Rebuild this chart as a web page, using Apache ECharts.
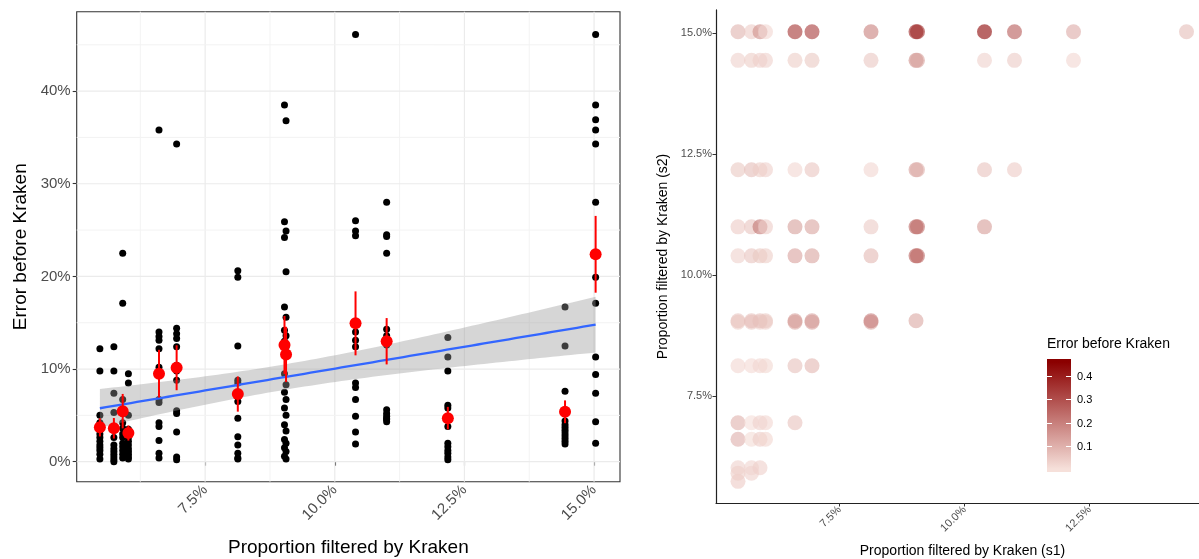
<!DOCTYPE html>
<html><head><meta charset="utf-8">
<script src="https://cdn.jsdelivr.net/npm/echarts@6/dist/echarts.min.js"></script>
<style>html,body{margin:0;padding:0;background:#fff}#c{width:1199px;height:559px}</style>
</head><body><div id="c"></div>
<script>
// Proportion filtered by Kraken for each sample (%)
const samples = [5.47, 5.74, 5.91, 6.02, 6.61, 6.95, 8.13, 9.03, 9.06, 10.40, 11.00, 12.18, 14.44, 15.03];
// Error before Kraken (%) of every pair that contains the sample
const err_547 = [12.2, 9.8, 5.0, 4.2, 3.6, 3.0, 2.6, 2.2, 1.8, 1.5, 1.2, 0.8, 0.3];
const err_574 = [12.4, 9.8, 7.4, 5.3, 3.6, 2.6, 1.8, 1.4, 1.1, 0.8, 0.5, 0.2, 0.0];
const err_591 = [22.5, 17.1, 6.7, 5.2, 4.2, 3.6, 3.0, 2.6, 2.0, 1.6, 1.2, 0.8, 0.4];
const err_602 = [9.5, 8.5, 5.0, 3.5, 3.0, 2.6, 2.2, 1.8, 1.4, 1.1, 0.8, 0.5, 0.3];
const err_661 = [35.8, 14.0, 13.5, 13.1, 12.2, 10.2, 6.7, 6.4, 4.2, 3.8, 2.3, 0.9, 0.4];
const err_695 = [34.3, 14.4, 13.8, 13.3, 12.4, 10.4, 9.8, 8.8, 5.5, 5.2, 3.2, 0.5, 0.2];
const err_813 = [20.6, 19.9, 12.5, 8.8, 8.5, 7.3, 6.5, 4.7, 2.7, 1.8, 0.9, 0.4, 0.3];
const err_903 = [38.5, 25.9, 24.2, 16.7, 14.2, 13.0, 9.5, 7.5, 5.8, 4.0, 2.4, 1.5, 0.6];
const err_906 = [36.8, 24.9, 20.5, 15.6, 13.6, 12.4, 8.3, 6.7, 5.0, 3.3, 2.0, 1.1, 0.3];
const err_1040 = [46.1, 26.0, 24.9, 24.4, 14.0, 13.1, 12.4, 8.5, 8.0, 6.7, 4.9, 3.2, 1.9];
const err_1100 = [28.0, 24.5, 24.3, 22.5, 14.3, 13.6, 12.6, 5.6, 5.2, 4.9, 4.6, 4.6, 4.3];
const err_1218 = [13.4, 11.3, 9.8, 6.1, 5.8, 4.5, 3.8, 2.0, 1.6, 1.2, 0.9, 0.5, 0.2];
const err_1444 = [16.7, 12.5, 7.6, 5.2, 4.4, 4.0, 3.7, 3.4, 3.1, 2.8, 2.5, 2.2, 1.9];
const err_1503 = [46.1, 38.5, 36.9, 35.8, 34.3, 28.0, 19.9, 17.1, 11.3, 9.4, 7.4, 4.3, 2.0];
const leftColumns = [err_547, err_574, err_591, err_602, err_661, err_695, err_813,
  err_903, err_906, err_1040, err_1100, err_1218, err_1444, err_1503];

// Right panel: error (fraction) of pair (s1 = samples[i], s2 = samples[j]), i < j, one array per s2
const pairErr_574 = [0.045];
const pairErr_591 = [0.040, 0.030];
const pairErr_602 = [0.030, 0.025, 0.036];
const pairErr_661 = [0.102, 0.009, 0.042, 0.023];
const pairErr_695 = [0.098, 0.005, 0.032, 0.020, 0.064];
const pairErr_813 = [0.020, 0.015, 0.020, 0.018, 0.067, 0.088];
const pairErr_903 = [0.040, 0.053, 0.030, 0.035, 0.122, 0.133, 0.125];
const pairErr_906 = [0.060, 0.070, 0.067, 0.050, 0.140, 0.138, 0.206, 0.120];
const pairErr_1040 = [0.030, 0.060, 0.050, 0.040, 0.131, 0.124, 0.085, 0.260, 0.250];
const pairErr_1100 = [0.045, 0.060, 0.225, 0.043, 0.136, 0.126, 0.047, 0.245, 0.243, 0.143];
const pairErr_1218 = [0.050, 0.074, 0.040, 0.035, 0.020, 0.055, 0.020, 0.134, 0.098, 0.061, 0.045];
const pairErr_1444 = [0.030, 0.040, 0.035, 0.030, 0.040, 0.050, 0.052, 0.167, 0.125, 0.032, 0.046, 0.020];
const pairErr_1503 = [0.094, 0.043, 0.171, 0.020, 0.358, 0.343, 0.199, 0.385, 0.369, 0.461, 0.280, 0.113, 0.074];
const pairRows = [null, pairErr_574, pairErr_591, pairErr_602, pairErr_661, pairErr_695, pairErr_813,
  pairErr_903, pairErr_906, pairErr_1040, pairErr_1100, pairErr_1218, pairErr_1444, pairErr_1503];

// ticks
const leftXTicks = [7.5, 10, 12.5, 15];
const leftXMinor = [6.25, 8.75, 11.25, 13.75];
const leftYTicks = [0, 10, 20, 30, 40];
const leftYMinor = [5, 15, 25, 35, 45];
const rightXTicks = [7.5, 10, 12.5, 15];
const rightYTicks = [7.5, 10, 12.5, 15];
const legendTicks = [0.1, 0.2, 0.3, 0.4];

// ---- derived ----
const blackPts = [];
leftColumns.forEach((col, i) => col.forEach(v => blackPts.push([samples[i], v])));
const summary = leftColumns.map((col, i) => {
  const n = col.length, m = col.reduce((a, b) => a + b, 0) / n;
  const sd = Math.sqrt(col.reduce((a, b) => a + (b - m) * (b - m), 0) / (n - 1));
  const se = sd / Math.sqrt(n);
  return [samples[i], m, m - se, m + se];
});
// linear fit with 95% confidence band
const N = blackPts.length;
const xb = blackPts.reduce((a, p) => a + p[0], 0) / N;
const yb = blackPts.reduce((a, p) => a + p[1], 0) / N;
let sxx = 0, sxy = 0;
blackPts.forEach(p => { sxx += (p[0] - xb) ** 2; sxy += (p[0] - xb) * (p[1] - yb); });
const slope = sxy / sxx, icpt = yb - slope * xb;
let sse = 0; blackPts.forEach(p => { sse += (p[1] - icpt - slope * p[0]) ** 2; });
const sRes = Math.sqrt(sse / (N - 2)), tq = 1.973;
const xLo = Math.min(...samples), xHi = Math.max(...samples);
const band = [];
for (let k = 0; k <= 80; k++) {
  const x = xLo + (xHi - xLo) * k / 80;
  const f = icpt + slope * x;
  const h = tq * sRes * Math.sqrt(1 / N + (x - xb) ** 2 / sxx);
  band.push([x, f, f - h, f + h]);
}
const gridSpecs = [];
leftXTicks.forEach(v => gridSpecs.push([0, v, 1]));
leftXMinor.forEach(v => gridSpecs.push([0, v, 0]));
leftYTicks.forEach(v => gridSpecs.push([1, v, 1]));
leftYMinor.forEach(v => gridSpecs.push([1, v, 0]));

const pairPts = [];
pairRows.forEach((row, j) => { if (row) row.forEach((v, i) => pairPts.push([samples[i], samples[j], v])); });
const errMin = 0, errMax = Math.max(...pairPts.map(p => p[2]));
const lowCol = '#f6e0da', highCol = '#8b0000';

const chart = echarts.init(document.getElementById('c'));
const axisFont = 'Liberation Sans, Arial, sans-serif';

// legend colour bar
const lgX = 1047, lgY = 359, lgW = 24, lgH = 113;
const lgMin = -0.013, lgMax = 0.4745;
const lgYof = v => lgY + lgH - (v - lgMin) / (lgMax - lgMin) * lgH;
const legendGraphic = [
  { type: 'text', left: lgX, top: 337, style: { text: 'Error before Kraken', font: '14px ' + axisFont, fill: '#000' } },
  { type: 'rect', shape: { x: lgX, y: lgY, width: lgW, height: lgH },
    style: { fill: new echarts.graphic.LinearGradient(0, 1, 0, 0, [
      { offset: (errMin - lgMin) / (lgMax - lgMin), color: lowCol },
      { offset: (errMax - lgMin) / (lgMax - lgMin), color: highCol }]) } }
];
legendTicks.forEach(v => {
  const y = Math.round(lgYof(v)) + 0.5;
  legendGraphic.push({ type: 'line', shape: { x1: lgX, y1: y, x2: lgX + 5, y2: y }, style: { stroke: '#fff', lineWidth: 1 } });
  legendGraphic.push({ type: 'line', shape: { x1: lgX + lgW - 5, y1: y, x2: lgX + lgW, y2: y }, style: { stroke: '#fff', lineWidth: 1 } });
  legendGraphic.push({ type: 'text', x: lgX + lgW + 6, y: y, style: { text: v.toFixed(1), font: '11px ' + axisFont, fill: '#000', verticalAlign: 'middle' } });
});

chart.setOption({
  animation: false,
  backgroundColor: '#fff',
  textStyle: { fontFamily: axisFont },
  graphic: legendGraphic,
  grid: [
    { left: 76.7, top: 11.7, width: 543.3, height: 470, show: true, borderColor: '#333', borderWidth: 1.1,
      backgroundColor: '#fff', z: 0, containLabel: false, outerBoundsMode: 'none' },
    { left: 716, top: 9.9, width: 493, height: 493.1, containLabel: false, outerBoundsMode: 'none' }
  ],
  xAxis: [
    { type: 'value', gridIndex: 0, min: 5.023, max: 15.50, splitLine: { show: false },
      axisLine: { show: false },
      axisTick: { show: true, length: 4, customValues: leftXTicks, lineStyle: { color: '#333', width: 1.1 } },
      axisLabel: { customValues: leftXTicks, rotate: 45, fontSize: 15, color: '#4d4d4d', margin: 6, formatter: v => v.toFixed(1) + '%' },
      name: 'Proportion filtered by Kraken', nameLocation: 'middle', nameGap: 57,
      nameTextStyle: { fontSize: 19, color: '#000' } },
    { type: 'value', gridIndex: 1, min: 5.03, max: 14.89, splitLine: { show: false },
      axisLine: { show: true, onZero: false, lineStyle: { color: '#222', width: 1.2 } },
      axisTick: { show: true, length: 3.5, customValues: rightXTicks, lineStyle: { color: '#333' } },
      axisLabel: { customValues: rightXTicks, rotate: 45, fontSize: 11, color: '#4d4d4d', margin: 5, formatter: v => v.toFixed(1) + '%' },
      name: 'Proportion filtered by Kraken (s1)', nameLocation: 'middle', nameGap: 41,
      nameTextStyle: { fontSize: 14, color: '#000' } }
  ],
  yAxis: [
    { type: 'value', gridIndex: 0, min: -2.16, max: 48.57, splitLine: { show: false },
      axisLine: { show: false },
      axisTick: { show: true, length: 4, customValues: leftYTicks, lineStyle: { color: '#333', width: 1.1 } },
      axisLabel: { customValues: leftYTicks, fontSize: 15, color: '#4d4d4d', margin: 6, formatter: v => Math.round(v) + '%' },
      name: 'Error before Kraken', nameLocation: 'middle', nameGap: 46, nameRotate: 90,
      nameTextStyle: { fontSize: 19, color: '#000' } },
    { type: 'value', gridIndex: 1, min: 5.293, max: 15.483, splitLine: { show: false },
      axisLine: { show: true, onZero: false, lineStyle: { color: '#222', width: 1.2 } },
      axisTick: { show: true, length: 3.5, customValues: rightYTicks, lineStyle: { color: '#333' } },
      axisLabel: { customValues: rightYTicks, fontSize: 11, color: '#4d4d4d', margin: 4, formatter: v => v.toFixed(1) + '%' },
      name: 'Proportion filtered by Kraken (s2)', nameLocation: 'middle', nameGap: 46, nameRotate: 90,
      nameTextStyle: { fontSize: 14, color: '#000' } }
  ],
  visualMap: [{ type: 'continuous', show: false, seriesIndex: 6, dimension: 2, min: errMin, max: errMax,
    inRange: { color: [lowCol, highCol] } }],
  series: [
    { type: 'custom', xAxisIndex: 0, yAxisIndex: 0, z: 1, silent: true, data: gridSpecs,
      renderItem(params, api) {
        const cs = params.coordSys;
        const orient = api.value(0), v = api.value(1), major = api.value(2);
        const style = { stroke: major ? '#ebebeb' : '#f3f3f3', lineWidth: major ? 1.2 : 1 };
        if (orient === 0) { const x = api.coord([v, 0])[0]; return { type: 'line', shape: { x1: x, y1: cs.y, x2: x, y2: cs.y + cs.height }, style }; }
        const y = api.coord([6, v])[1];
        return { type: 'line', shape: { x1: cs.x, y1: y, x2: cs.x + cs.width, y2: y }, style };
      } },
    { type: 'scatter', xAxisIndex: 0, yAxisIndex: 0, z: 2, symbolSize: 7, data: blackPts,
      itemStyle: { color: '#000', opacity: 1 } },
    { type: 'custom', xAxisIndex: 0, yAxisIndex: 0, z: 3, silent: true, data: band,
      renderItem(params, api) {
        if (params.dataIndex !== 0) return null;
        const pts = band.map(b => api.coord([b[0], b[3]]));
        for (let k = band.length - 1; k >= 0; k--) pts.push(api.coord([band[k][0], band[k][2]]));
        return { type: 'polygon', shape: { points: pts }, style: { fill: 'rgba(153,153,153,0.4)' } };
      } },
    { type: 'line', xAxisIndex: 0, yAxisIndex: 0, z: 4, symbol: 'none', data: band.map(b => [b[0], b[1]]),
      lineStyle: { color: '#3366FF', width: 2.3 } },
    { type: 'custom', xAxisIndex: 0, yAxisIndex: 0, z: 5, silent: true, data: summary,
      renderItem(params, api) {
        const p1 = api.coord([api.value(0), api.value(2)]);
        const p2 = api.coord([api.value(0), api.value(3)]);
        return { type: 'line', shape: { x1: p1[0], y1: p1[1], x2: p2[0], y2: p2[1] }, style: { stroke: '#ff0000', lineWidth: 2 } };
      } },
    { type: 'scatter', xAxisIndex: 0, yAxisIndex: 0, z: 6, symbolSize: 12, data: summary.map(s => [s[0], s[1]]),
      itemStyle: { color: '#ff0000', opacity: 1 } },
    { type: 'scatter', xAxisIndex: 1, yAxisIndex: 1, z: 2, symbolSize: 15, data: pairPts,
      itemStyle: { opacity: 0.6 } }
  ]
});
</script></body></html>
